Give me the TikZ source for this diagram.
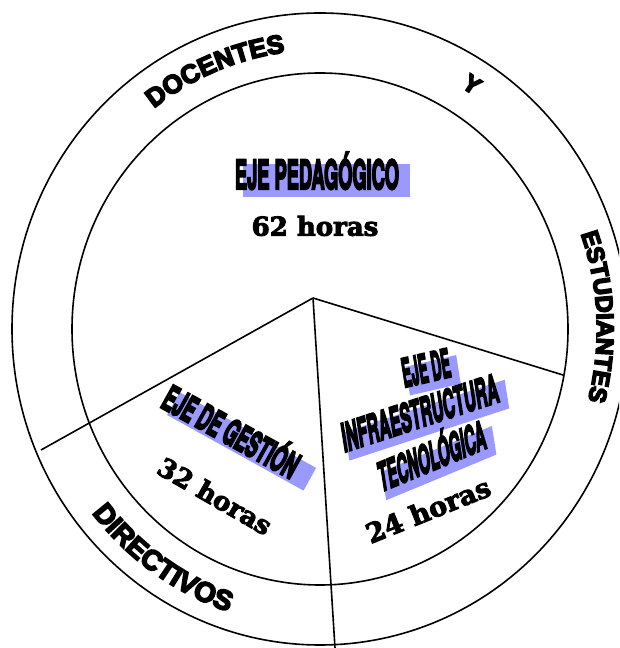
\documentclass[tikz,border=0pt]{standalone}
\usepackage{fontspec}
\usepackage{graphicx}
\usetikzlibrary{decorations.text}
\newfontfamily\ringfamily{Liberation Sans}
\newfontfamily\ejefamily{TeX Gyre Heros}
\newfontfamily\horasfamily{DejaVu Serif}
\newcommand\heavy[1]{\special{pdf:literal direct #1 w 2 Tr}}
\newcommand\ringA{\ringfamily\bfseries\fontsize{26pt}{26pt}\selectfont\heavy{1.6}}
\newcommand\ringB{\ringfamily\bfseries\fontsize{28pt}{28pt}\selectfont\heavy{1.6}}
\newcommand\ringC{\ringfamily\bfseries\fontsize{24pt}{24pt}\selectfont\heavy{1.6}}
\newcommand\ejeA{\ejefamily\bfseries\fontsize{40pt}{40pt}\selectfont}
\newcommand\ejeB{\ejefamily\bfseries\fontsize{35pt}{35pt}\selectfont}
\newcommand\ejeC{\ejefamily\bfseries\fontsize{39pt}{39pt}\selectfont}
\newcommand\horasfont{\horasfamily\bfseries\fontsize{26pt}{26pt}\selectfont}
\newcommand\horasfontB{\horasfamily\bfseries\fontsize{27pt}{27pt}\selectfont}
\newcommand\wide[2]{\resizebox{#1}{\height}{\heavy{2.4}#2}}
\newcommand\thick[1]{\heavy{0.9}#1}
\definecolor{shadowblue}{RGB}{153,153,255}
\tikzset{
  ringline/.style={line width=1.6pt, draw=black},
  spoke/.style={line width=1.6pt, draw=black},
  ejetext/.style={inner sep=0pt, text height=#1, text depth=0pt},
  horastext/.style={inner sep=0pt},
  shadowfill/.style={fill=shadowblue, draw=none}
}
\begin{document}
\begin{tikzpicture}[x=1pt, y=1pt]
\useasboundingbox (0,0) rectangle (619,648);
\coordinate (c) at (320,319);
\coordinate (hub) at (313,350);
\coordinate (lend) at (41,198);
\coordinate (rend) at (563,273);
\coordinate (bend) at (335,0);
\begin{scope}
  \clip (0,0) rectangle (619,648);
  \draw[ringline] (c) ellipse [x radius=308, y radius=316];
  \draw[ringline] (c) ellipse [x radius=248, y radius=256];
  \draw[spoke] (hub) -- (lend);
  \draw[spoke] (hub) -- (rend);
  \draw[spoke] (hub) -- (bend);
\end{scope}

% ring texts
\begin{scope}[shift={(320,319)}]
  \path[decorate, decoration={text along path, text align=center, text={|\ringA|DOCENTES}}]
    (140:271 and 279) arc[start angle=140, end angle=85, x radius=271, y radius=279];
  \path[decorate, decoration={text along path, text align=center, text={|\ringC|Y}}]
    (70:274 and 282) arc[start angle=70, end angle=45, x radius=274, y radius=282];
  \path[decorate, decoration={text along path, text align=center, text={|\ringC|ESTUDIANTES}}]
    (30:277 and 282) arc[start angle=30, end angle=-25, x radius=277, y radius=282];
  \path[decorate, decoration={text along path, text align=center, text={|\ringB|DIRECTIVOS}}]
    (205:290 and 298) arc[start angle=205, end angle=265, x radius=290, y radius=298];
\end{scope}

% EJE PEDAGOGICO
\fill[shadowfill] (243,451) rectangle (410,484);
\node[ejetext=28pt, font=\ejeA] (ped) at (317,473) {\wide{164pt}{EJE PEDAGÓGICO}};
\node[horastext, font=\horasfont] (h62) at (315,422) {\thick{62 horas}};

% EJE DE GESTION
\begin{scope}[shift={(239,208)}, rotate=-29]
  \fill[shadowfill] (-75,-13) -- (81,-13) -- (81,13) -- (-75,13) -- cycle;
\end{scope}
\node[ejetext=25pt, font=\ejeB, rotate=-29] (ges) at (231,216) {\wide{150pt}{EJE DE GESTIÓN}};
\node[horastext, font=\horasfont, rotate=-30] (h32) at (215,152) {\thick{32 horas}};

% EJE DE INFRAESTRUCTURA TECNOLOGICA
\begin{scope}[shift={(432,273)}, rotate=9, yslant=0.07]
  \fill[shadowfill] (-25,-15) -- (27,-15) -- (27,14) -- (-25,14) -- cycle;
\end{scope}
\begin{scope}[shift={(426,228)}, rotate=9, yslant=0.16]
  \fill[shadowfill] (-82,-15) -- (84,-15) -- (84,14) -- (-82,14) -- cycle;
\end{scope}
\begin{scope}[shift={(438,185)}, rotate=9, yslant=0.24]
  \fill[shadowfill] (-57,-15) -- (59,-15) -- (59,14) -- (-57,14) -- cycle;
\end{scope}
\node[ejetext=28pt, font=\ejeC, rotate=9, yslant=0.07] (inf1) at (426,280) {\wide{49pt}{EJE DE}};
\node[ejetext=28pt, font=\ejeC, rotate=9, yslant=0.16] (inf2) at (420,235) {\wide{162pt}{INFRAESTRUCTURA}};
\node[ejetext=28pt, font=\ejeC, rotate=9, yslant=0.24] (inf3) at (432,192) {\wide{112pt}{TECNOLÓGICA}};
\node[horastext, font=\horasfontB, rotate=22] (h24) at (428,138) {\thick{24 horas}};
\end{tikzpicture}
\end{document}
